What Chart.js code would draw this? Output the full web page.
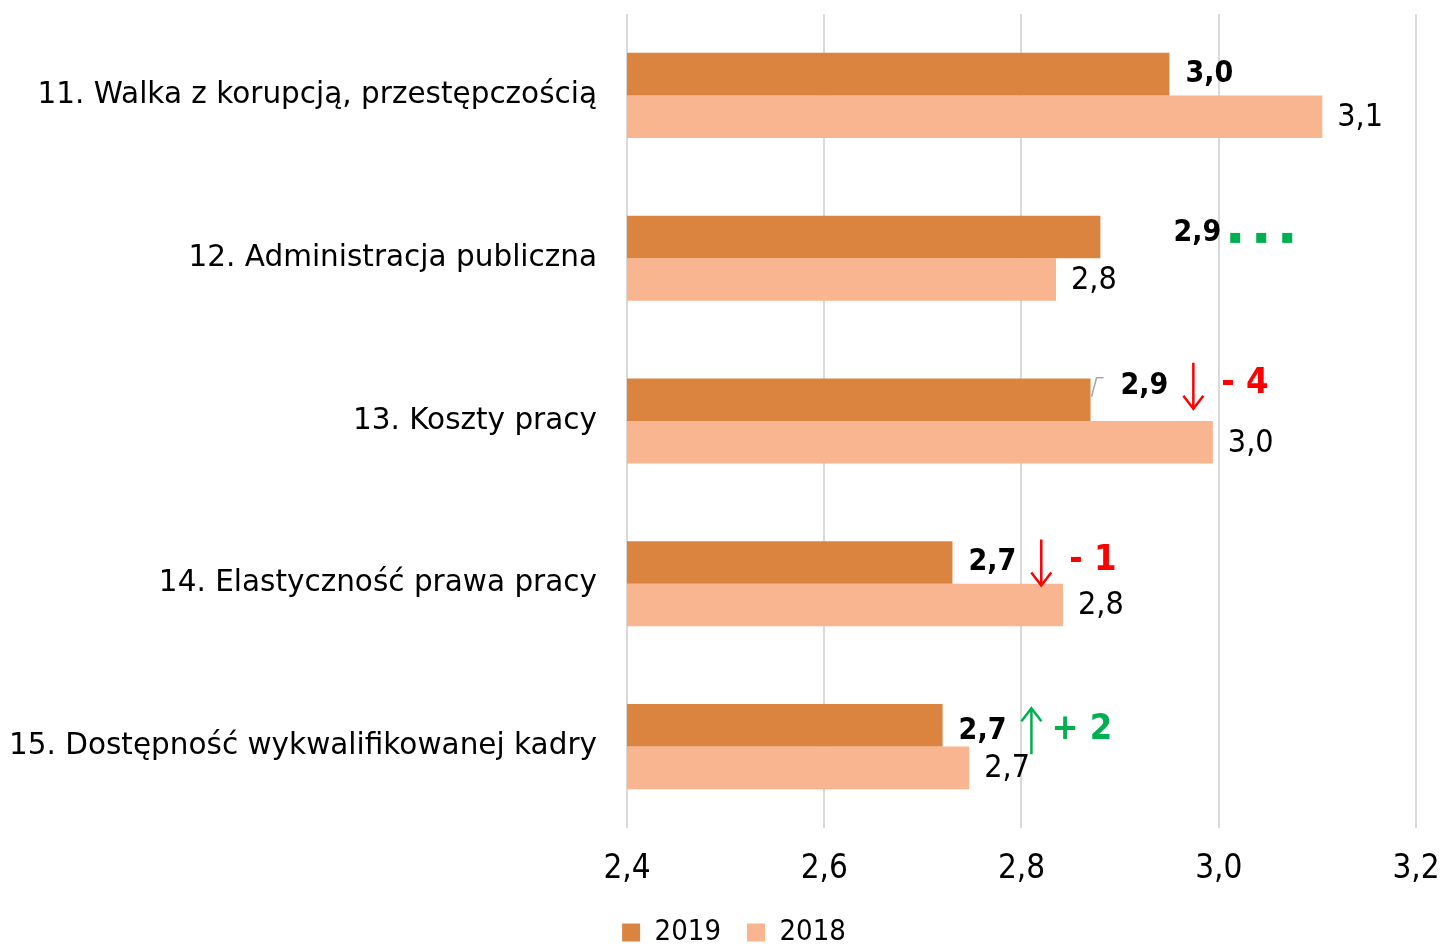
<!DOCTYPE html>
<html>
<head>
<meta charset="utf-8">
<script src="https://cdn.jsdelivr.net/npm/chart.js@4.4.0/dist/chart.umd.min.js"></script>
<style>
html,body{margin:0;padding:0;background:#fff;}
#wrap{width:1443px;height:947px;position:relative;}
</style>
</head>
<body>
<div id="wrap"><canvas id="c" width="1443" height="947"></canvas></div>
<script>
const categories = [
  '11. Walka z korupcją, przestępczością',
  '12. Administracja publiczna',
  '13. Koszty pracy',
  '14. Elastyczność prawa pracy',
  '15. Dostępność wykwalifikowanej kadry'
];
const seriesNames = ['2019', '2018'];
const values2019 = [2.95, 2.88, 2.87, 2.73, 2.72];
const values2018 = [3.105, 2.835, 2.994, 2.842, 2.747];
const labels2019 = ['3,0', '2,9', '2,9', '2,7', '2,7'];
const labels2018 = ['3,1', '2,8', '3,0', '2,8', '2,7'];
const changeDir = ['', 'same', 'down', 'down', 'up'];
const changeText = ['', '', '- 4', '- 1', '+ 2'];
const xTicks = [2.4, 2.6, 2.8, 3.0, 3.2];

const FONT = '"DejaVu Sans", sans-serif';
const NFONT = '"DejaVu Sans Condensed", "DejaVu Sans", sans-serif';
const C2019 = '#DA843F';
const C2018 = '#F8B590';
const GREEN = '#00B050';
const RED = '#FF0000';

// label placement tweaks (pixels) for 2019 labels
const lab19dx = [0, 57, 14, 0, 0];
const lab19dy = [0, -4, -14, 0, 6];

const fmt = v => v.toFixed(1).replace('.', ',');

const labelPlugin = {
  id: 'labels',
  afterLayout(chart) {
    // shift legend to match the reference centring
    const lg = chart.legend;
    if (lg) { lg.left += 26; lg.right += 26; }
  },
  afterDatasetsDraw(chart) {
    const ctx = chart.ctx;
    ctx.save();
    ctx.textBaseline = 'middle';
    ctx.textAlign = 'left';
    const m19 = chart.getDatasetMeta(0).data;
    const m18 = chart.getDatasetMeta(1).data;
    m18.forEach((el, i) => {
      ctx.font = '32px ' + NFONT;
      ctx.fillStyle = '#000';
      ctx.fillText(labels2018[i], el.x + 15, el.y + 1);
    });
    m19.forEach((el, i) => {
      ctx.font = 'bold 30px ' + NFONT;
      ctx.fillStyle = '#000';
      const lx = el.x + 16 + lab19dx[i];
      const ly = el.y + lab19dy[i];
      ctx.fillText(labels2019[i], lx, ly);
      const w = ctx.measureText(labels2019[i]).width;
      const endX = lx + w;
      if (i === 2) {
        ctx.strokeStyle = '#A6A6A6';
        ctx.lineWidth = 1.5;
        ctx.beginPath();
        ctx.moveTo(el.x + 1, el.y - 3);
        ctx.lineTo(el.x + 6, ly - 8);
        ctx.lineTo(el.x + 13, ly - 8);
        ctx.stroke();
      }
      const dir = changeDir[i];
      if (dir === 'same') {
        ctx.fillStyle = GREEN;
        for (let k = 0; k < 3; k++) {
          ctx.fillRect(endX + 9 + k * 26, ly, 10, 10);
        }
      } else if (dir === 'down' || dir === 'up') {
        const col = dir === 'down' ? RED : GREEN;
        const ax = endX + 25;
        const top = ly - 23, bot = ly + 23;
        ctx.strokeStyle = col;
        ctx.lineWidth = 2.5;
        ctx.beginPath();
        ctx.moveTo(ax, top);
        ctx.lineTo(ax, bot);
        if (dir === 'down') {
          ctx.moveTo(ax - 10, bot - 13);
          ctx.lineTo(ax, bot);
          ctx.lineTo(ax + 10, bot - 13);
        } else {
          ctx.moveTo(ax - 10, top + 13);
          ctx.lineTo(ax, top);
          ctx.lineTo(ax + 10, top + 13);
        }
        ctx.stroke();
        ctx.fillStyle = col;
        ctx.font = 'bold 36px ' + NFONT;
        ctx.fillText(changeText[i], ax + (dir === 'up' ? 20 : 28), ly - 2);
      }
    });
    ctx.restore();
  }
};

new Chart(document.getElementById('c'), {
  type: 'bar',
  data: {
    labels: categories,
    datasets: [
      { label: seriesNames[0], data: values2019, backgroundColor: C2019, borderWidth: 0 },
      { label: seriesNames[1], data: values2018, backgroundColor: C2018, borderWidth: 0 }
    ]
  },
  options: {
    indexAxis: 'y',
    responsive: false,
    animation: false,
    devicePixelRatio: 1,
    categoryPercentage: 0.523,
    barPercentage: 1.0,
    layout: { padding: { top: 14, right: 27, left: 0, bottom: 0 } },
    plugins: {
      legend: {
        position: 'bottom',
        maxHeight: 55,
        labels: {
          boxWidth: 18, boxHeight: 18, padding: 26,
          color: '#000',
          font: { family: NFONT, size: 29 }
        }
      },
      tooltip: { enabled: false }
    },
    scales: {
      x: {
        min: 2.4, max: 3.2,
        afterBuildTicks: s => { s.ticks = xTicks.map(v => ({ value: v })); },
        afterFit: s => { s.height = 64; s.paddingLeft = 0; s.paddingRight = 0; },
        ticks: {
          color: '#000',
          padding: 22,
          maxRotation: 0,
          font: { family: NFONT, size: 33 },
          callback: v => fmt(v)
        },
        grid: { color: '#D9D9D9', lineWidth: 2, drawTicks: false },
        border: { display: false }
      },
      y: {
        afterFit: s => { s.width = 627; s.paddingTop = 0; s.paddingBottom = 0; },
        ticks: {
          color: '#000',
          padding: 30,
          font: { family: FONT, size: 29.5 }
        },
        grid: { display: false, drawTicks: false },
        border: { display: false }
      }
    }
  },
  plugins: [labelPlugin]
});
</script>
</body>
</html>
